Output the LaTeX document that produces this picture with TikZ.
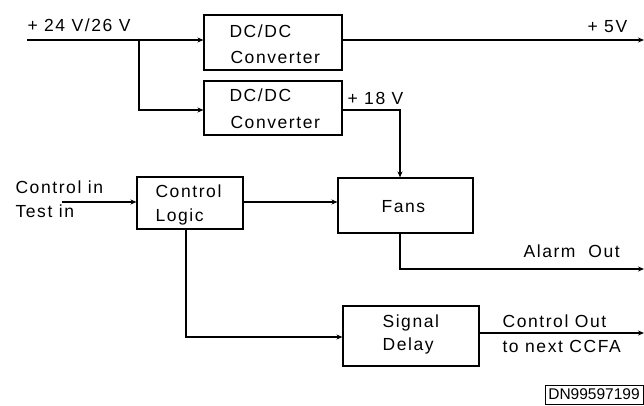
\documentclass[tikz,border=0pt]{standalone}
\usepackage{fontspec}
\setmainfont{Liberation Sans}[LetterSpace=9]
\newfontfamily\dnfont{Liberation Sans}
\usetikzlibrary{arrows.meta}
\begin{document}
\begin{tikzpicture}[x=1pt,y=-1pt,
  line width=1.1pt,
  box/.style={draw,line width=1.1pt,inner sep=0pt},
  txt/.style={anchor=base west,inner sep=0pt,font=\fontsize{17.5}{20}\selectfont},
  arr/.style={-{Stealth[length=6pt,width=5pt]}}]
\useasboundingbox (0,0) rectangle (644,405);
% boxes
\node[box,minimum width=138pt,minimum height=55pt] (dc1) at (273,42.5) {};
\node[box,minimum width=138pt,minimum height=54pt] (dc2) at (273,108) {};
\node[box,minimum width=106pt,minimum height=52pt] (cl) at (190,203) {};
\node[box,minimum width=135pt,minimum height=55pt] (fans) at (405.5,205.5) {};
\node[box,minimum width=136pt,minimum height=60pt] (sd) at (411,336) {};
% box texts
\node[txt] (t1a) at (229,37) {DC/DC};
\node[txt] (t1b) at (230,63) {Converter};
\node[txt] (t2a) at (229,101) {DC/DC};
\node[txt] (t2b) at (230,128) {Converter};
\node[txt] (tc1) at (155,197) {Control};
\node[txt] (tc2) at (155,221) {Logic};
\node[txt] (tf) at (381,212) {Fans};
\node[txt] (ts1) at (382,327) {Signal};
\node[txt] (ts2) at (382,350) {Delay};
% labels
\node[txt] (lin) at (27,31) {+ 24 V/26 V};
\node[txt] (l5) at (587,32) {+ 5V};
\node[txt] (l18) at (347,104) {+ 18 V};
\node[txt] (lci) at (15,193) {Control in};
\node[txt] (lti) at (15,217) {Test in};
\node[txt] (lao) at (523,257) {Alarm\ \ Out};
\node[txt] (lco1) at (502,327) {Control Out};
\node[txt] (lco2) at (502,352) {to next CCFA};
\node[draw,line width=1pt,inner sep=1pt,minimum width=98pt,minimum height=19pt,
  font=\dnfont\fontsize{15.5}{17}\selectfont] (dn) at (594,394.5) {DN99597199};
% coordinates
\coordinate (in) at (27,40);
\coordinate (br) at (139,40);
\coordinate (b2) at (139,110);
\coordinate (o5) at (644,40);
\coordinate (k18) at (400,110);
\coordinate (ci) at (62,202);
\coordinate (ao) at (644,269);
\coordinate (cd) at (186,337);
\coordinate (co) at (644,333);
% connectors
\draw[arr] (in) -- (in -| dc1.west);
\draw[arr] (br) -- (b2) -- (b2 -| dc2.west);
\draw[arr] (in -| dc1.east) -- (o5);
\draw[arr] (b2 -| dc2.east) -- (k18) -- (k18 |- fans.north);
\draw[arr] (ci) -- (ci -| cl.west);
\draw[arr] (ci -| cl.east) -- (ci -| fans.west);
\draw[arr] (k18 |- fans.south) |- (ao);
\draw[arr] (cd |- cl.south) -- (cd) -- (cd -| sd.west);
\draw[arr] (co -| sd.east) -- (co);
\end{tikzpicture}
\end{document}
